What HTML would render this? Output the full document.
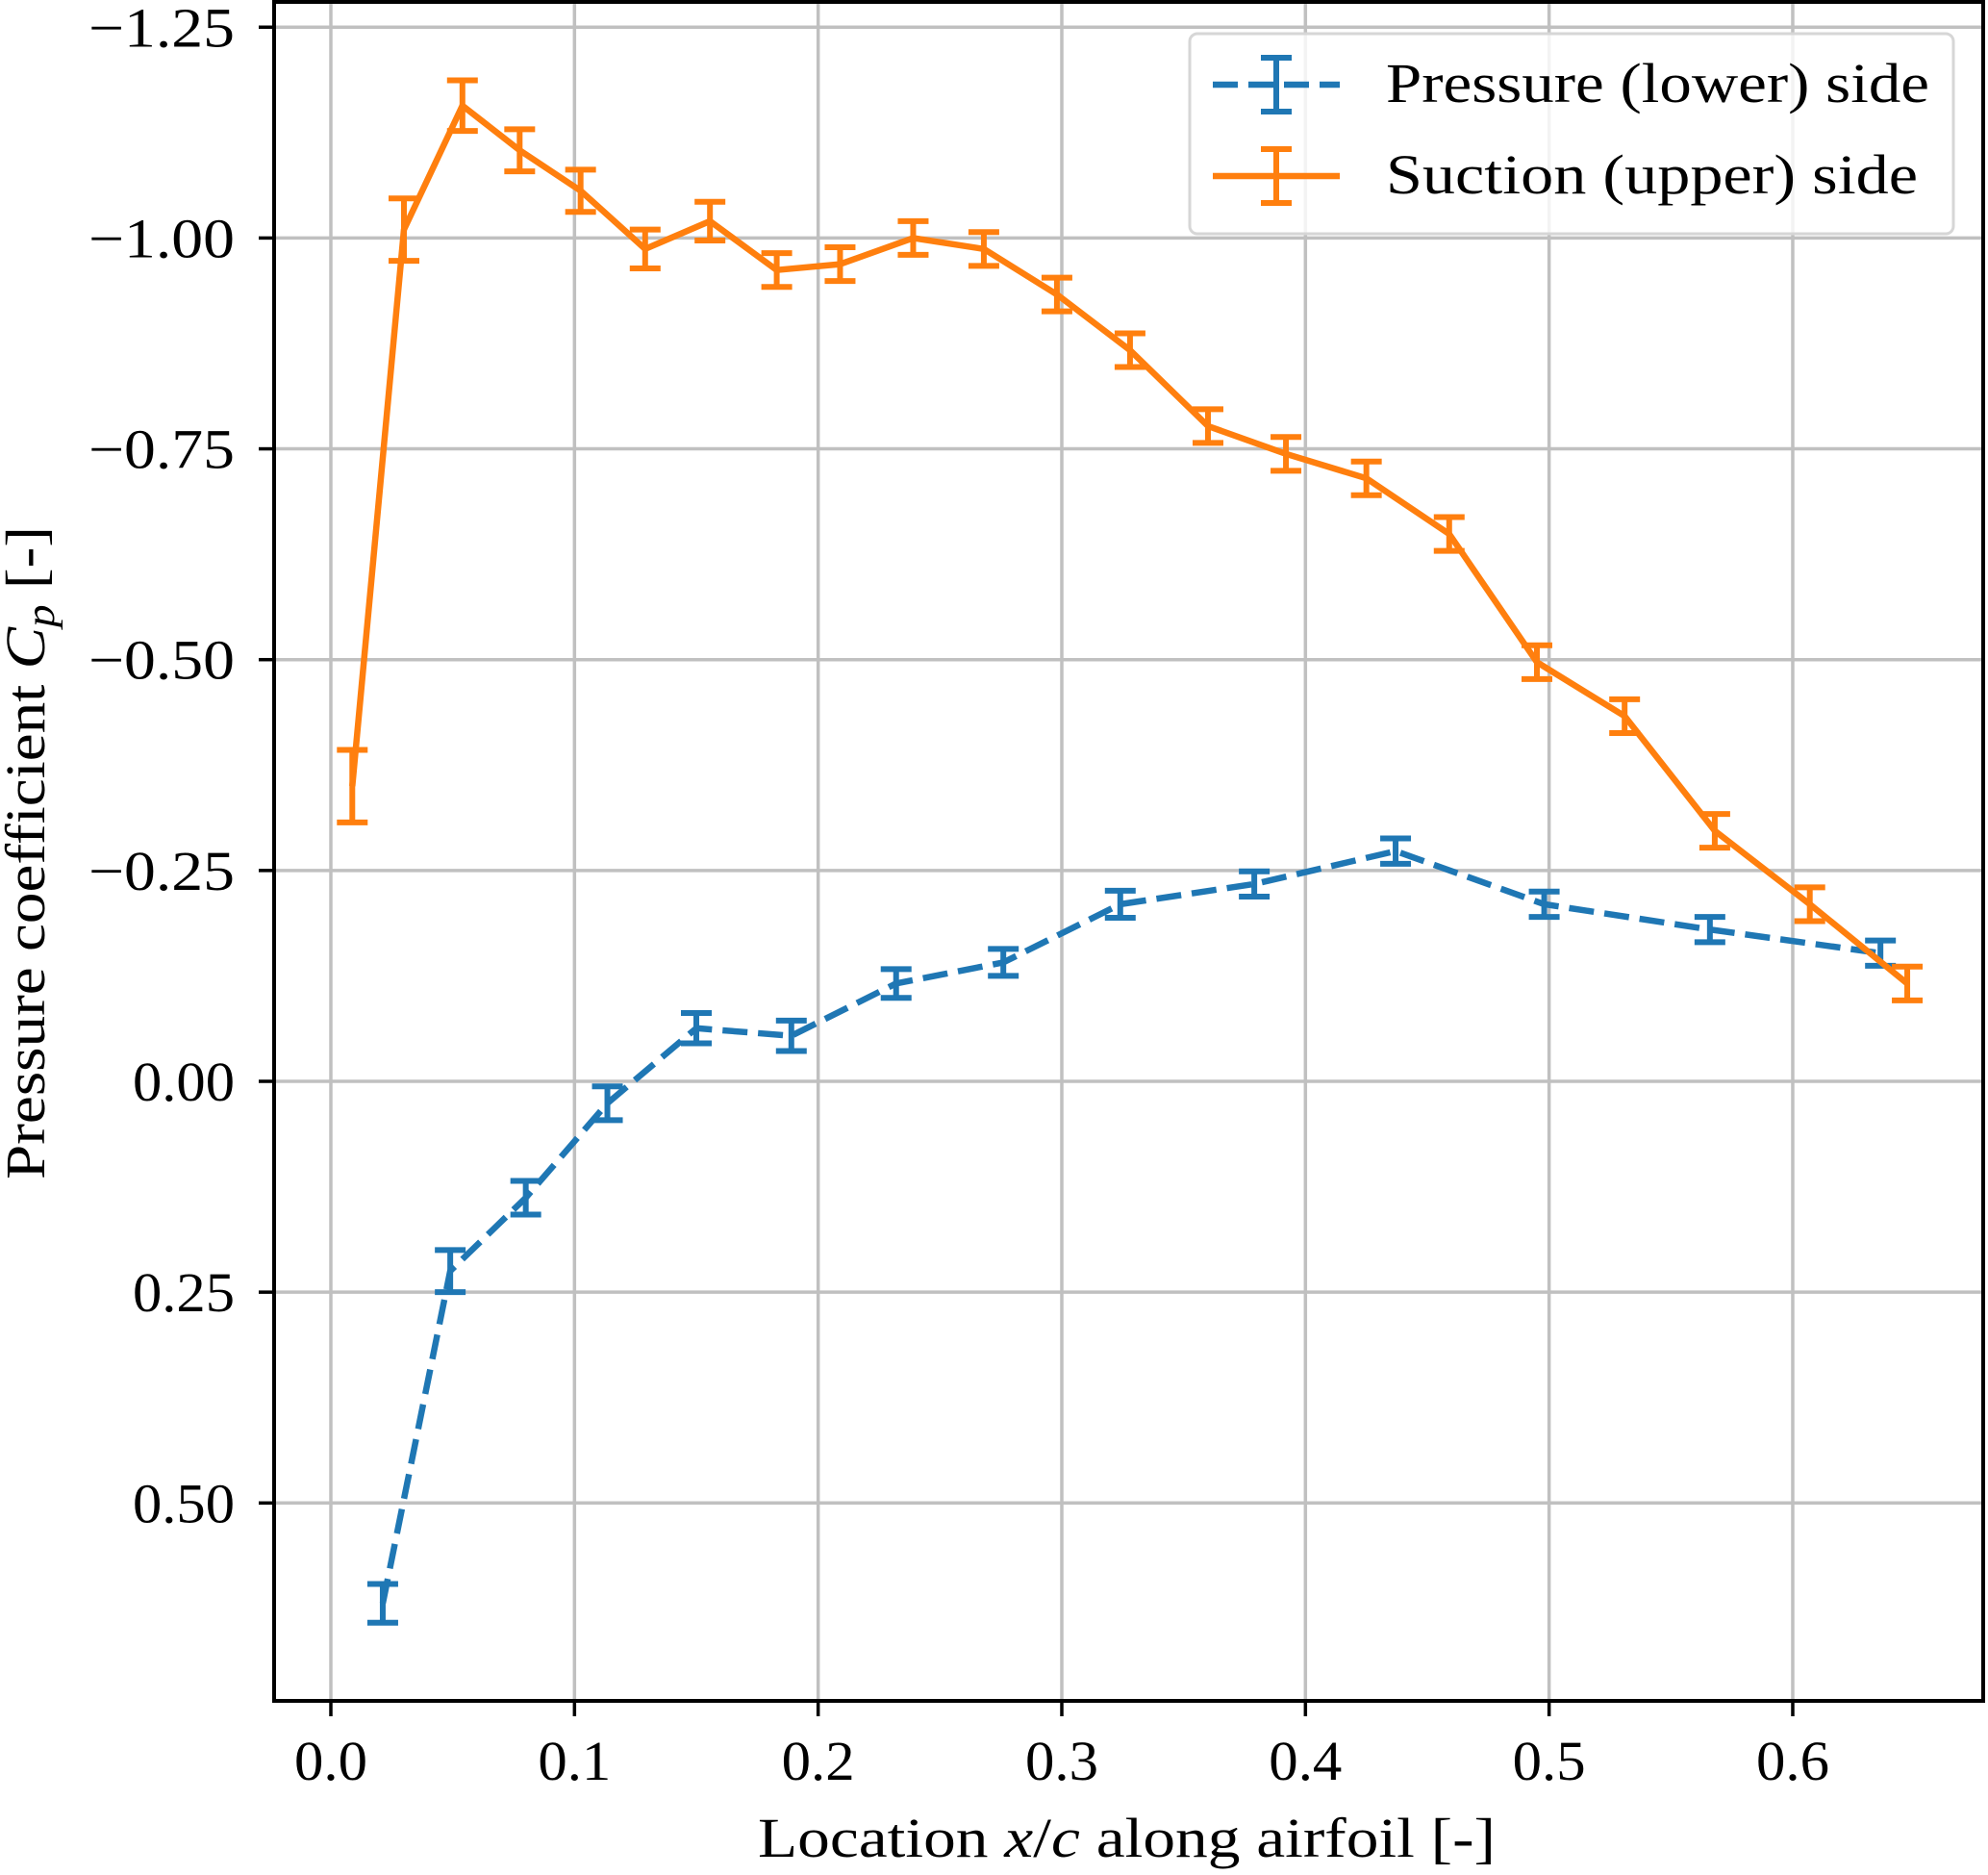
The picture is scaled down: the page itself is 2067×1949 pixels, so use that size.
<!DOCTYPE html>
<html><head><meta charset="utf-8"><style>
html,body{margin:0;padding:0;background:#fff;}
svg{display:block;}
text{font-family:"Liberation Serif","DejaVu Serif",serif;fill:#000;}
</style></head><body>
<svg id="chart" width="2067" height="1949" viewBox="0 0 2067 1949" xmlns="http://www.w3.org/2000/svg">
<rect width="2067" height="1949" fill="#fff"/>
<g id="grid"></g>
<g id="series"></g>
<rect x="285" y="2" width="1777" height="1766" fill="none" stroke="#000" stroke-width="4"/>
<g id="ticks"></g>
<text x="788" y="1930" font-size="58" textLength="767" lengthAdjust="spacingAndGlyphs">Location <tspan font-style="italic">x</tspan>/<tspan font-style="italic">c</tspan> along airfoil [-]</text>
<text transform="translate(46,1226) rotate(-90)" font-size="58" textLength="679" lengthAdjust="spacingAndGlyphs">Pressure coefficient <tspan font-style="italic">C</tspan><tspan font-style="italic" font-size="42" dy="10">p</tspan><tspan dy="-10"> [-]</tspan></text>
<g>
<rect x="1237" y="35" width="794" height="208" rx="8" fill="#fff" fill-opacity="0.8" stroke="#d6d6d6" stroke-width="3"/>
<g>
<line x1="1261" y1="88" x2="1393" y2="88" stroke="#1f77b4" stroke-width="6.5" stroke-dasharray="26,11"/>
<line x1="1327" y1="60" x2="1327" y2="116" stroke="#1f77b4" stroke-width="6"/>
<line x1="1311" y1="60" x2="1343" y2="60" stroke="#1f77b4" stroke-width="6"/>
<line x1="1311" y1="116" x2="1343" y2="116" stroke="#1f77b4" stroke-width="6"/>
<text x="1441" y="106" font-size="58" textLength="565" lengthAdjust="spacingAndGlyphs">Pressure (lower) side</text>
</g>
<g>
<line x1="1261" y1="183" x2="1393" y2="183" stroke="#ff7f0e" stroke-width="6.5"/>
<line x1="1327" y1="155" x2="1327" y2="211" stroke="#ff7f0e" stroke-width="6"/>
<line x1="1311" y1="155" x2="1343" y2="155" stroke="#ff7f0e" stroke-width="6"/>
<line x1="1311" y1="211" x2="1343" y2="211" stroke="#ff7f0e" stroke-width="6"/>
<text x="1441" y="201" font-size="58" textLength="553" lengthAdjust="spacingAndGlyphs">Suction (upper) side</text>
</g>
</g>
</svg>
<script>
const xTicks = [0.0, 0.1, 0.2, 0.3, 0.4, 0.5, 0.6];
const xTickLabels = ["0.0","0.1","0.2","0.3","0.4","0.5","0.6"];
const yTicks = [-1.25, -1.0, -0.75, -0.5, -0.25, 0.0, 0.25, 0.5];
const yTickLabels = ["\u22121.25","\u22121.00","\u22120.75","\u22120.50","\u22120.25","0.00","0.25","0.50"];
const suctionX = [0.0088,0.030,0.054,0.0775,0.1025,0.129,0.1556,0.183,0.209,0.239,0.268,0.298,0.328,0.360,0.392,0.425,0.459,0.495,0.531,0.568,0.607,0.647];
const suctionY = [-0.35,-1.01,-1.157,-1.104,-1.056,-0.987,-1.02,-0.962,-0.969,-1.0,-0.987,-0.933,-0.867,-0.777,-0.744,-0.715,-0.649,-0.497,-0.433,-0.297,-0.21,-0.116];
const suctionErr = [0.043,0.037,0.03,0.025,0.025,0.023,0.023,0.02,0.02,0.02,0.02,0.02,0.02,0.02,0.02,0.02,0.02,0.02,0.02,0.02,0.02,0.02];
const pressureX = [0.0213,0.049,0.080,0.1135,0.150,0.189,0.232,0.276,0.324,0.379,0.437,0.498,0.566,0.636];
const pressureY = [0.619,0.225,0.138,0.026,-0.063,-0.054,-0.116,-0.141,-0.21,-0.234,-0.273,-0.21,-0.18,-0.152];
const pressureErr = [0.023,0.025,0.02,0.02,0.018,0.018,0.017,0.016,0.016,0.015,0.015,0.015,0.015,0.015];

const NS = "http://www.w3.org/2000/svg";
const PL = 285, PR = 2062, PT = 2, PB = 1768;
function xs(v){ return 344 + v * 2533.3; }
function ys(v){ return 1124 + v * 876.6; }
function mk(tag, attrs, parent){ const e = document.createElementNS(NS, tag); for (const k in attrs) e.setAttribute(k, attrs[k]); parent.appendChild(e); return e; }

const grid = document.getElementById('grid');
const ticks = document.getElementById('ticks');
xTicks.forEach((t, i) => {
  const x = xs(t);
  const g = mk('line', {x1:x, y1:PT, x2:x, y2:PB, stroke:'#c0c0c0', 'stroke-width':3.5}, grid);
  
  
  const tk = mk('line', {x1:x, y1:PB, x2:x, y2:PB+16, stroke:'#000', 'stroke-width':3.5}, ticks);
  
  
  const lb = mk('text', {x:x-38, y:1850, 'font-size':58, textLength:76, lengthAdjust:'spacingAndGlyphs'}, ticks);
  lb.textContent = xTickLabels[i];
  
  
});
yTicks.forEach((t, i) => {
  const y = ys(t);
  const g = mk('line', {x1:PL, y1:y, x2:PR, y2:y, stroke:'#c0c0c0', 'stroke-width':3.5}, grid);
  
  
  const tk = mk('line', {x1:PL-16, y1:y, x2:PL, y2:y, stroke:'#000', 'stroke-width':3.5}, ticks);
  
  
  const w = t < 0 ? 152 : 106;
  const lb = mk('text', {x:244-w, y:y+20, 'font-size':58, textLength:w, lengthAdjust:'spacingAndGlyphs'}, ticks);
  lb.textContent = yTickLabels[i];
  
  
});

const series = document.getElementById('series');
function drawSeries(X, Y, E, color, dash, name){
  const g = mk('g', {}, series);
  
  
  const pts = X.map((x, i) => xs(x).toFixed(1) + ',' + ys(Y[i]).toFixed(1)).join(' ');
  const attrs = {points:pts, fill:'none', stroke:color, 'stroke-width':6.5, 'stroke-linejoin':'round'};
  if (dash) attrs['stroke-dasharray'] = dash;
  const pl = mk('polyline', attrs, g);
  
  
  X.forEach((x, i) => {
    const cx = xs(x), y1 = ys(Y[i] - E[i]), y2 = ys(Y[i] + E[i]);
    const eb = mk('g', {stroke:color, 'stroke-width':6}, g);
    
    
    mk('line', {x1:cx, y1:y1, x2:cx, y2:y2}, eb);
    mk('line', {x1:cx-16, y1:y1, x2:cx+16, y2:y1}, eb);
    mk('line', {x1:cx-16, y1:y2, x2:cx+16, y2:y2}, eb);
  });
}
drawSeries(pressureX, pressureY, pressureErr, '#1f77b4', '26,11', 'pressure');
drawSeries(suctionX, suctionY, suctionErr, '#ff7f0e', null, 'suction');
</script>
</body></html>
